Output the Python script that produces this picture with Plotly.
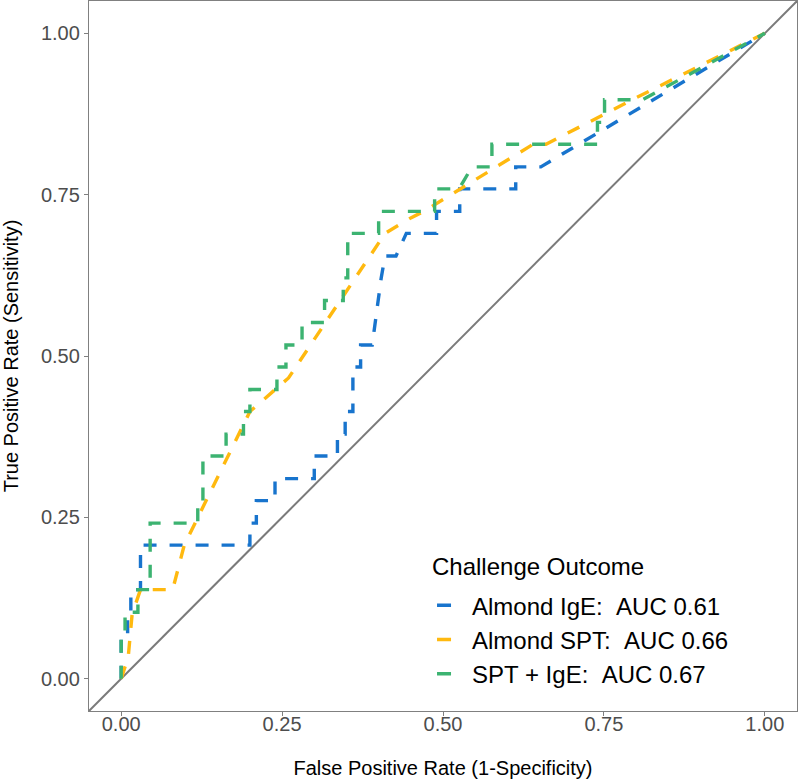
import plotly.graph_objects as go

# ROC curve points (FPR, TPR)
ige_fpr = [0, 0, 0.010, 0.010, 0.015, 0.015, 0.030, 0.030, 0.200, 0.200, 0.210, 0.210, 0.239, 0.239,
           0.300, 0.300, 0.336, 0.336, 0.348, 0.348, 0.360, 0.360, 0.372, 0.372, 0.390, 0.404, 0.410,
           0.427, 0.443, 0.490, 0.490, 0.526, 0.526, 0.613, 0.613, 0.652, 1.0]
ige_tpr = [0, 0.069, 0.069, 0.103, 0.103, 0.138, 0.138, 0.207, 0.207, 0.241, 0.241, 0.276, 0.276, 0.310,
           0.310, 0.345, 0.345, 0.379, 0.379, 0.414, 0.414, 0.483, 0.483, 0.517, 0.517, 0.621, 0.655,
           0.655, 0.690, 0.690, 0.724, 0.724, 0.759, 0.759, 0.793, 0.793, 1.0]

spt_fpr = [0, 0.011, 0.017, 0.030, 0.080, 0.098, 0.200, 0.260, 0.410, 0.450, 0.470, 0.640, 0.660, 0.800, 1.0]
spt_tpr = [0, 0.034, 0.100, 0.138, 0.138, 0.207, 0.414, 0.466, 0.690, 0.714, 0.724, 0.828, 0.828, 0.900, 1.0]

comb_fpr = [0, 0, 0.006, 0.006, 0.026, 0.026, 0.045, 0.045, 0.119, 0.119, 0.127, 0.127, 0.163, 0.163,
            0.190, 0.190, 0.200, 0.200, 0.242, 0.242, 0.256, 0.256, 0.281, 0.281, 0.316, 0.316, 0.345,
            0.345, 0.352, 0.352, 0.400, 0.400, 0.487, 0.487, 0.525, 0.545, 0.576, 0.576, 0.740, 0.740,
            0.751, 0.751, 0.810, 1.0]
comb_tpr = [0, 0.069, 0.069, 0.103, 0.103, 0.138, 0.138, 0.241, 0.241, 0.276, 0.276, 0.345, 0.345, 0.379,
            0.379, 0.414, 0.414, 0.448, 0.448, 0.483, 0.483, 0.517, 0.517, 0.552, 0.552, 0.586, 0.586,
            0.621, 0.621, 0.690, 0.690, 0.724, 0.724, 0.759, 0.759, 0.793, 0.793, 0.828, 0.828, 0.862,
            0.862, 0.897, 0.897, 1.0]

series_names = ["Almond IgE:\u00a0\u00a0AUC 0.61", "Almond SPT:\u00a0\u00a0AUC 0.66", "SPT + IgE:\u00a0\u00a0AUC 0.67"]
series_colors = ["#1874CD", "#FFB90F", "#3CB371"]
legend_title = "Challenge Outcome"

tick_vals = [0, 0.25, 0.5, 0.75, 1.0]
tick_text = ["0.00", "0.25", "0.50", "0.75", "1.00"]

FONT = "Liberation Sans, Arial, sans-serif"

fig = go.Figure()

# reference diagonal across the panel
fig.add_trace(go.Scatter(x=[-0.05, 1.05], y=[-0.05, 1.05], mode="lines",
                         line=dict(color="#7A7A7A", width=2), showlegend=False, hoverinfo="skip"))

dash = "13px,13px"
for fx, ty, name, col in zip([ige_fpr, spt_fpr, comb_fpr], [ige_tpr, spt_tpr, comb_tpr], series_names, series_colors):
    fig.add_trace(go.Scatter(x=fx, y=ty, mode="lines", name=name,
                             line=dict(color=col, width=3.4, dash=dash), showlegend=False))

# legend entries (single short dash key)
for name, col in zip(series_names, series_colors):
    fig.add_trace(go.Scatter(x=[None], y=[None], mode="lines", name=name,
                             line=dict(color=col, width=3.4, dash="14px,100px"), showlegend=True))

axis_common = dict(range=[-0.05, 1.05], showgrid=False, zeroline=False, automargin=False,
                   showline=True, mirror=True, linecolor="#808080", linewidth=1.3,
                   ticks="outside", ticklen=4, tickcolor="#808080", tickwidth=1.3,
                   tickvals=tick_vals, ticktext=tick_text,
                   tickfont=dict(family=FONT, size=20, color="#4D4D4D"))

fig.update_layout(
    width=800, height=779,
    margin=dict(l=89, r=3, t=1, b=68),
    plot_bgcolor="white", paper_bgcolor="white",
    xaxis=dict(axis_common, ticklabelstandoff=-9,
               title=dict(text="False Positive Rate (1-Specificity)",
                          font=dict(family=FONT, size=20, color="black"), standoff=26)),
    yaxis=dict(axis_common,
               title=dict(text="True Positive Rate (Sensitivity)",
                          font=dict(family=FONT, size=20, color="black"), standoff=20)),
    legend=dict(x=0.4845, y=0.180, xanchor="left", yanchor="top",
                bgcolor="rgba(0,0,0,0)",
                font=dict(family=FONT, size=24, color="black"),
                itemwidth=30, tracegroupgap=0),
    annotations=[dict(text=legend_title, xref="paper", yref="paper", x=0.4816, y=0.2042,
                      xanchor="left", yanchor="middle", showarrow=False,
                      font=dict(family=FONT, size=24, color="black"))],
)

fig.write_html("out.html", post_script="document.body.style.margin='0px';",
               config={"displayModeBar": False})
